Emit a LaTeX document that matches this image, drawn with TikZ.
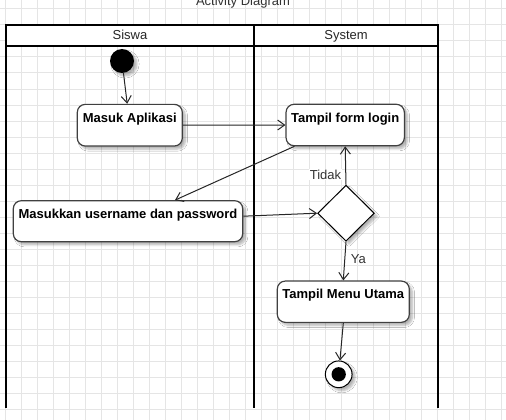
\documentclass[tikz,border=0pt]{standalone}
\usepackage{fontspec}
\setmainfont{Liberation Sans}
\usetikzlibrary{arrows.meta,shapes.geometric,shadows.blur,calc}
\begin{document}
\begin{tikzpicture}[x=1pt,y=-1pt,
  font=\fontsize{13}{15}\selectfont,
  gridl/.style={draw=gray!20, line width=1pt},
  pool/.style={draw=black, line width=2pt},
  shdw/.style={blur shadow={shadow xshift=3pt, shadow yshift=-3pt, shadow blur steps=6, shadow opacity=30}},
  act/.style={draw=black!75, line width=1.2pt, rounded corners=8pt, fill=white,
    font=\fontsize{13}{15}\selectfont\bfseries, text=black,
    text height=13.5pt, text depth=19.5pt, inner ysep=4pt, inner xsep=0pt, shdw},
  flow/.style={draw=black!85, line width=1pt, -{Straight Barb[length=7pt,width=10pt]}},
  lbl/.style={font=\fontsize{13}{15}\selectfont, text=black!80, inner sep=1pt},
  lane/.style={font=\fontsize{13}{15}\selectfont, text=black!85, inner sep=0pt, anchor=base}
]
\clip (0,0) rectangle (506,420);
\fill[white] (0,0) rectangle (506,420);
% grid
\foreach \gx in {5.7,21.7,...,505} \draw[gridl] (\gx,0) -- (\gx,420);
\foreach \gy in {9,25,...,420} \draw[gridl] (0,\gy) -- (506,\gy);
% title
\node[lane, text=black!80] (title) at (243,5.6) {Activity Diagram};
% pool
\fill[white] (6,25) rectangle (438,46);
\draw[pool] (6,408) -- (6,25) -- (438,25) -- (438,408);
\draw[pool] (6,46) -- (438,46);
\draw[pool] (254,25) -- (254,408);
\node[lane] (siswa) at (130,39.6) {Siswa};
\node[lane] (system) at (346,39.6) {System};
% nodes
\node[circle, fill=black, minimum size=24pt, inner sep=0pt, shdw] (start) at (122,61) {};
\node[act, minimum width=105pt, minimum height=41.7pt] (masuk) at (129.8,125.2) {Masuk Aplikasi};
\node[act, minimum width=118.3pt, minimum height=41.4pt] (form) at (345.2,125) {Tampil form login};
\node[act, minimum width=229.4pt, minimum height=41pt] (input) at (128,221.2) {Masukkan username dan password};
\node[diamond, draw=black, line width=1pt, fill=white, minimum width=56.7pt, minimum height=56pt, inner sep=0pt, shdw] (dec) at (346,213.2) {};
\node[act, minimum width=132pt, minimum height=41.3pt] (menu) at (343.3,301.7) {Tampil Menu Utama};
\node[circle, draw=black, line width=1pt, fill=white, minimum size=26.7pt, inner sep=0pt, shdw] (end) at (338.7,374.3) {};
\node[circle, fill=black, minimum size=14.3pt, inner sep=0pt] (endin) at (end.center) {};
% edges
\draw[flow] (start) -- (masuk);
\draw[flow] (masuk.east) -- (form.west);
\draw[flow] ([xshift=9pt]form.south west) -- ([xshift=47pt]input.north);
\draw[flow] ([yshift=5pt]input.east) -- (dec.west);
\draw[flow] (dec.north) -- (form.south);
\draw[flow] (dec.south) -- (menu.north);
\draw[flow] (menu.south) -- (end);
\node[lbl, fill=white, anchor=base] (tidak) at (325.5,179) {Tidak};
\node[lbl, anchor=base] (ya) at (358.3,263.3) {Ya};
\end{tikzpicture}
\end{document}
